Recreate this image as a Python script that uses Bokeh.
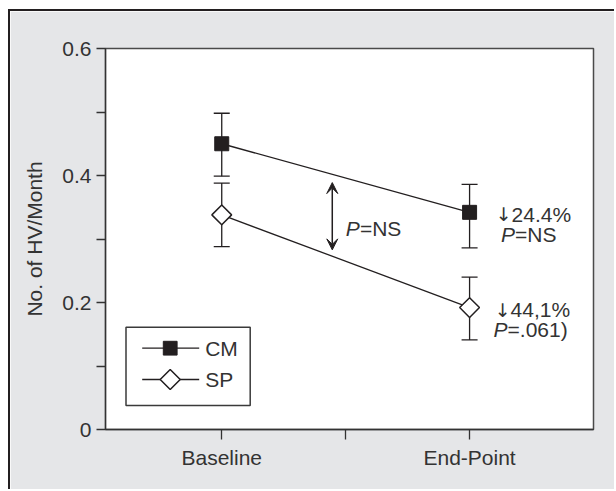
import math
from bokeh.plotting import figure
from bokeh.models import (ColumnDataSource, Whisker, TeeHead, Arrow, VeeHead, Label,
                          FixedTicker, Range1d, BoxAnnotation, PolyAnnotation)
from bokeh.embed import file_html
from bokeh.resources import INLINE

# ---------------- data ----------------
x_labels = ["Baseline", "End-Point"]
x_pos = [1, 2]
cm_mean = [0.450, 0.342]
cm_upper = [0.498, 0.386]
cm_lower = [0.399, 0.286]
sp_mean = [0.338, 0.192]
sp_upper = [0.388, 0.240]
sp_lower = [0.288, 0.141]
series_names = ["CM", "SP"]
change_values = ["24.4%", "44,1%"]
p_value_labels = ["=NS", "=.061)"]
between_label = "=NS"
y_ticks = [0, 0.2, 0.4, 0.6]
y_tick_labels = ["0", "0.2", "0.4", "0.6"]
y_minor_ticks = [0.1, 0.3, 0.5]

INK = "#231f20"
TEXT = "#333333"
FONT = "Liberation Sans"
FS = "21px"

p = figure(width=606, height=480,
           x_range=Range1d(0.531, 2.5), y_range=Range1d(0, 0.6),
           output_backend="svg", toolbar_location=None,
           min_border_left=95, min_border_right=23, min_border_top=37, min_border_bottom=62,
           background_fill_color="white", border_fill_color="#e5e6e8",
           outline_line_color="#4a4a4a", outline_line_width=1.5)
p.styles = {"margin-left": "8px", "margin-top": "9px",
            "border-left": "2px solid #231f20", "border-top": "2px solid #231f20"}
p.xgrid.visible = False
p.ygrid.visible = False

# ---- axes ----
xa = p.xaxis[0]
xa.ticker = FixedTicker(ticks=x_pos, minor_ticks=[(x_pos[0] + x_pos[1]) / 2])
xa.major_label_overrides = dict(zip(x_pos, x_labels))
ya = p.yaxis[0]
ya.ticker = FixedTicker(ticks=y_ticks, minor_ticks=y_minor_ticks)
ya.major_label_overrides = dict(zip(y_ticks, y_tick_labels))
ya.axis_label = "No. of HV/Month"
ya.axis_label_standoff = 13
ya.axis_label_text_font_style = "normal"
ya.axis_label_text_font_size = FS
ya.axis_label_text_font = FONT
ya.axis_label_text_color = TEXT
xa.major_tick_out = 10
xa.minor_tick_out = 10
xa.major_label_standoff = 6
ya.major_tick_out = 9
ya.minor_tick_out = 9
for ax in (xa, ya):
    ax.major_tick_in = 0
    ax.minor_tick_in = 0
    ax.major_label_text_font = FONT
    ax.major_label_text_font_size = FS
    ax.major_label_text_color = TEXT
    ax.axis_line_color = "#333333"
    ax.axis_line_width = 1.3
    ax.major_tick_line_color = "#333333"
    ax.minor_tick_line_color = "#333333"
    ax.major_tick_line_width = 1.3
    ax.minor_tick_line_width = 1.3

# ---- data glyphs ----
cm_src = ColumnDataSource(dict(x=x_pos, y=cm_mean, upper=cm_upper, lower=cm_lower))
sp_src = ColumnDataSource(dict(x=x_pos, y=sp_mean, upper=sp_upper, lower=sp_lower))
for src in (cm_src, sp_src):
    w = Whisker(source=src, base="x", upper="upper", lower="lower", dimension="height",
                level="underlay", line_color=INK, line_width=1.3,
                upper_head=TeeHead(size=16, line_color=INK, line_width=1.3),
                lower_head=TeeHead(size=16, line_color=INK, line_width=1.3))
    p.add_layout(w)

p.line("x", "y", source=cm_src, line_color=INK, line_width=1.3)
p.line("x", "y", source=sp_src, line_color=INK, line_width=1.3)
p.scatter("x", "y", source=cm_src, marker="square", size=14,
          fill_color=INK, line_color=INK, line_width=1)
p.scatter("x", "y", source=sp_src, marker="square", angle=math.pi / 4, size=14,
          fill_color="white", line_color=INK, line_width=1.5)

# ---- annotations at end points ----
def add_label(x, y, text, xo, yo, align, italic=False, font=FONT, size=FS):
    p.add_layout(Label(x=x, y=y, text=text, x_offset=xo, y_offset=yo,
                       text_align=align, text_baseline="alphabetic",
                       text_font=font, text_font_size=size, text_color=TEXT,
                       text_font_style="italic" if italic else "normal"))

end_x = x_pos[1]
add_label(end_x, cm_mean[1], "\u2193", 42.0, -1.8, "right", font="DejaVu Sans", size="19px")
add_label(end_x, cm_mean[1], change_values[0], 42.0, -1.8, "left")
add_label(end_x, cm_mean[1], "P", 45.5, -21.8, "right", italic=True)
add_label(end_x, cm_mean[1], p_value_labels[0], 45.5, -21.8, "left")
add_label(end_x, sp_mean[1], "\u2193", 41.0, -2.3, "right", font="DejaVu Sans", size="19px")
add_label(end_x, sp_mean[1], change_values[1], 41.0, -2.3, "left")
add_label(end_x, sp_mean[1], "P", 38.0, -22.0, "right", italic=True)
add_label(end_x, sp_mean[1], p_value_labels[1], 38.0, -22.0, "left")

# ---- double arrow between the lines ----
arrow_x = 1.446
t = (arrow_x - x_pos[0]) / (x_pos[1] - x_pos[0])
cm_at = cm_mean[0] + (cm_mean[1] - cm_mean[0]) * t
sp_at = sp_mean[0] + (sp_mean[1] - sp_mean[0]) * t
arrow_top = cm_at - 0.013
arrow_bottom = sp_at + 0.010
p.add_layout(Arrow(x_start=arrow_x, y_start=arrow_bottom, x_end=arrow_x, y_end=arrow_top,
                   line_color=INK, line_width=1.5,
                   start=VeeHead(size=11, fill_color=INK, line_color=INK, line_width=1),
                   end=VeeHead(size=11, fill_color=INK, line_color=INK, line_width=1)))
mid_y = (arrow_top + arrow_bottom) / 2
add_label(arrow_x, mid_y, "P", 27.6, -11.8, "right", italic=True)
add_label(arrow_x, mid_y, between_label, 27.6, -11.8, "left")

# ---- hand-built legend (screen units, frame-relative) ----
leg_left, leg_right, leg_bottom, leg_top = 20.5, 144.7, 24.0, 102.3
row_y = [81.3, 50.0]
line_x0, line_x1, mark_cx, label_x = 36.7, 93.7, 64.7, 99.7
p.add_layout(BoxAnnotation(left=leg_left, right=leg_right, bottom=leg_bottom, top=leg_top,
                           left_units="screen", right_units="screen",
                           bottom_units="screen", top_units="screen",
                           fill_color="white", fill_alpha=1,
                           line_color="#3a3a3a", line_alpha=1, line_width=1.5))
for ry in row_y:
    p.add_layout(Arrow(x_start=line_x0, y_start=ry, x_end=line_x1, y_end=ry,
                       start_units="screen", end_units="screen", start=None, end=None,
                       line_color=INK, line_width=1.3))
h = 6.9
cy = row_y[0]
p.add_layout(PolyAnnotation(xs=[mark_cx - h, mark_cx + h, mark_cx + h, mark_cx - h],
                            ys=[cy - h, cy - h, cy + h, cy + h],
                            xs_units="screen", ys_units="screen",
                            fill_color=INK, fill_alpha=1, line_color=INK, line_alpha=1,
                            line_width=1))
d = 10.0
cy = row_y[1]
p.add_layout(PolyAnnotation(xs=[mark_cx - d, mark_cx, mark_cx + d, mark_cx],
                            ys=[cy, cy + d, cy, cy - d],
                            xs_units="screen", ys_units="screen",
                            fill_color="white", fill_alpha=1, line_color=INK, line_alpha=1,
                            line_width=1.5))
for name, ry in zip(series_names, row_y):
    p.add_layout(Label(x=label_x, y=ry, x_units="screen", y_units="screen", text=name,
                       text_align="left", text_baseline="middle",
                       text_font=FONT, text_font_size=FS, text_color=TEXT))

open("out.html", "w").write(file_html(p, INLINE))
